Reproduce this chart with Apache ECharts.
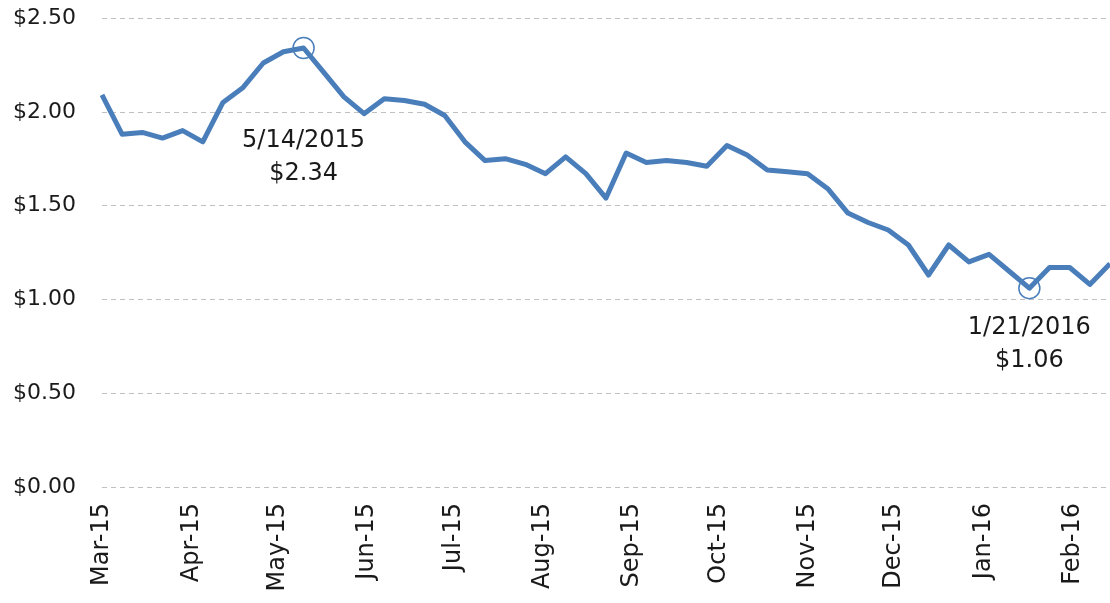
<!DOCTYPE html>
<html>
<head>
<meta charset="utf-8">
<script src="https://cdn.jsdelivr.net/npm/echarts@6/dist/echarts.min.js"></script>
<style>
html,body{margin:0;padding:0;background:#fff;}
#chart{width:1110px;height:603px;}
</style>
</head>
<body>
<div id="chart"></div>
<script>
// Weekly observation dates
const dates = [
  '2015-03-05','2015-03-12','2015-03-19','2015-03-26','2015-04-02','2015-04-09','2015-04-16','2015-04-23',
  '2015-04-30','2015-05-07','2015-05-14','2015-05-21','2015-05-28','2015-06-04','2015-06-11','2015-06-18',
  '2015-06-25','2015-07-02','2015-07-09','2015-07-16','2015-07-23','2015-07-30','2015-08-06','2015-08-13',
  '2015-08-20','2015-08-27','2015-09-03','2015-09-10','2015-09-17','2015-09-24','2015-10-01','2015-10-08',
  '2015-10-15','2015-10-22','2015-10-29','2015-11-05','2015-11-12','2015-11-19','2015-11-26','2015-12-03',
  '2015-12-10','2015-12-17','2015-12-24','2015-12-31','2016-01-07','2016-01-14','2016-01-21','2016-01-28',
  '2016-02-04','2016-02-11','2016-02-18'
];
// Price values ($)
const prices = [
  2.09, 1.88, 1.89, 1.86, 1.90, 1.84, 2.05, 2.13,
  2.26, 2.32, 2.34, 2.21, 2.08, 1.99, 2.07, 2.06,
  2.04, 1.98, 1.84, 1.74, 1.75, 1.72, 1.67, 1.76,
  1.67, 1.54, 1.78, 1.73, 1.74, 1.73, 1.71, 1.82,
  1.77, 1.69, 1.68, 1.67, 1.59, 1.46, 1.41, 1.37,
  1.29, 1.13, 1.29, 1.20, 1.24, 1.15, 1.06, 1.17,
  1.17, 1.08, 1.19
];
// X-axis label positions and texts
const tickDates = ['2015-03-05','2015-04-05','2015-05-05','2015-06-05','2015-07-05','2015-08-05',
  '2015-09-05','2015-10-05','2015-11-05','2015-12-05','2016-01-05','2016-02-05'];
const tickLabels = ['Mar-15','Apr-15','May-15','Jun-15','Jul-15','Aug-15',
  'Sep-15','Oct-15','Nov-15','Dec-15','Jan-16','Feb-16'];
// Y-axis ticks
const yTicks = [0, 0.5, 1.0, 1.5, 2.0, 2.5];
// Annotations
const annotationDates = ['2015-05-14','2016-01-21'];
const annotationTexts = ['5/14/2015\n$2.34','1/21/2016\n$1.06'];
const annotationDistances = [65, 12];

const DAY = 86400000;
const t0 = Date.UTC(2015, 2, 5);
// day offset from first date
function dayOf(s){ const p = s.split('-').map(Number); return Math.round((Date.UTC(p[0], p[1]-1, p[2]) - t0) / DAY); }

const blue = '#4a7ebb';
const tickDays = tickDates.map(dayOf);

const seriesData = dates.map((d, i) => {
  const k = annotationDates.indexOf(d);
  if (k < 0) return { value: [dayOf(d), prices[i]] };
  return {
    value: [dayOf(d), prices[i]],
    symbol: 'circle',
    symbolSize: 21,
    itemStyle: { color: 'rgba(255,255,255,0)', borderColor: blue, borderWidth: 1.5 },
    label: {
      show: true, position: 'bottom', distance: annotationDistances[k],
      formatter: annotationTexts[k],
      fontFamily: 'DejaVu Sans', fontSize: 24, lineHeight: 33, color: '#1a1a1a', align: 'center'
    }
  };
});

const chart = echarts.init(document.getElementById('chart'), null, { renderer: 'canvas' });
chart.setOption({
  animation: false,
  backgroundColor: '#fff',
  grid: { left: 102, right: 0, top: 18, bottom: 116 },
  xAxis: {
    type: 'value',
    min: dayOf(dates[0]),
    max: dayOf(dates[dates.length - 1]),
    axisLine: { show: false },
    axisTick: { show: false },
    splitLine: { show: false },
    axisLabel: {
      customValues: tickDays,
      rotate: 90,
      margin: 16,
      fontFamily: 'DejaVu Sans',
      fontSize: 24,
      color: '#1a1a1a',
      formatter: function (v) {
        const i = tickDays.indexOf(v);
        return i >= 0 ? tickLabels[i] : '';
      }
    }
  },
  yAxis: {
    type: 'value',
    min: yTicks[0],
    max: yTicks[yTicks.length - 1],
    interval: 0.5,
    axisLine: { show: false },
    axisTick: { show: false },
    splitLine: { show: true, lineStyle: { color: '#c0c0c0', type: [5, 4], width: 1 } },
    axisLabel: {
      margin: 26,
      fontFamily: 'DejaVu Sans',
      fontSize: 22,
      color: '#1a1a1a',
      formatter: v => '$' + v.toFixed(2)
    }
  },
  series: [{
    type: 'line',
    data: seriesData,
    symbol: 'none',
    showSymbol: true,
    clip: false,
    lineStyle: { color: blue, width: 5, join: 'round' },
    itemStyle: { color: blue },
    z: 3
  }]
});
</script>
</body>
</html>
